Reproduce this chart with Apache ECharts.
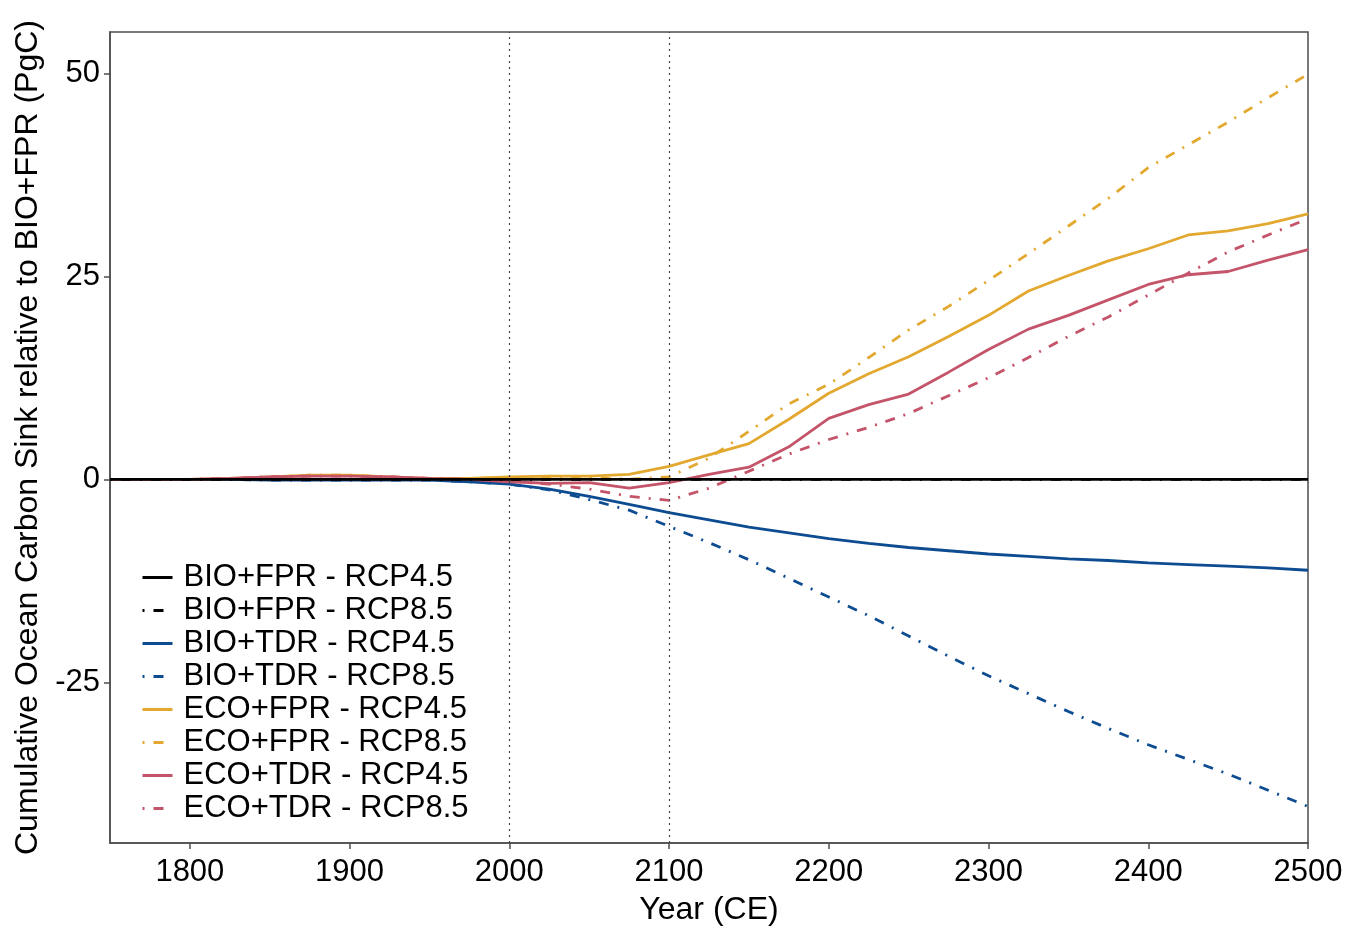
<!DOCTYPE html>
<html>
<head>
<meta charset="utf-8">
<script src="https://cdn.jsdelivr.net/npm/echarts@6/dist/echarts.min.js"></script>
<style>html,body{margin:0;padding:0;background:#fff;}#c{width:1351px;height:931px;}</style>
</head>
<body>
<div id="c"></div>
<script>
const years = [1750,1775,1800,1825,1850,1875,1900,1925,1950,1975,2000,2025,2050,2075,2100,2125,2150,2175,2200,2225,2250,2275,2300,2325,2350,2375,2400,2425,2450,2475,2500];

const bioFprRcp45 = [0,0,0,0,0,0,0,0,0,0,0,0,0,0,0,0,0,0,0,0,0,0,0,0,0,0,0,0,0,0,0];
const bioFprRcp85 = [0,0,0,0,0,0,0,0,0,0,0,0,0,0,0,0,0,0,0,0,0,0,0,0,0,0,0,0,0,0,0];
const bioTdrRcp45 = [0,0,0,0,-0.1,-0.1,-0.1,-0.1,-0.1,-0.3,-0.6,-1.2,-2.1,-3.1,-4.1,-5.0,-5.9,-6.6,-7.3,-7.9,-8.4,-8.8,-9.2,-9.5,-9.8,-10.0,-10.3,-10.5,-10.7,-10.9,-11.2];
const bioTdrRcp85 = [0,0,0,0,-0.1,-0.1,-0.1,-0.1,-0.1,-0.3,-0.6,-1.3,-2.5,-3.8,-5.8,-7.8,-9.9,-12.2,-14.5,-16.8,-19.3,-21.8,-24.2,-26.4,-28.6,-30.7,-32.7,-34.5,-36.3,-38.3,-40.3];
const ecoFprRcp45 = [0,0,0,0.1,0.3,0.5,0.5,0.3,0.1,0.1,0.3,0.4,0.4,0.6,1.6,3.0,4.4,7.4,10.6,13.0,15.1,17.6,20.2,23.2,25.1,26.9,28.4,30.1,30.6,31.5,32.7];
const ecoFprRcp85 = [0,0,0,0.1,0.3,0.5,0.5,0.3,0.1,0.1,0.2,0.3,0.2,0.0,0.3,2.6,5.9,9.3,11.7,15.0,18.4,21.3,24.5,27.8,31.2,34.6,38.4,41.2,44.0,47.0,49.9];
const ecoTdrRcp45 = [0,0,0,0.1,0.3,0.4,0.4,0.3,0.1,0,-0.3,-0.5,-0.4,-1.1,-0.4,0.6,1.5,4.0,7.5,9.2,10.5,13.2,16.0,18.5,20.2,22.1,24.0,25.2,25.6,27.0,28.3];
const ecoTdrRcp85 = [0,0,0,0.1,0.3,0.4,0.4,0.3,0.1,0,-0.2,-0.6,-1.2,-2.1,-2.6,-1.1,1.0,3.1,4.9,6.4,8.1,10.3,12.5,15.0,17.6,20.0,22.7,25.4,28.0,30.1,32.1];

const xTicks = [1800,1900,2000,2100,2200,2300,2400,2500];
const yTicks = [-25,0,25,50];
const refYears = [2000,2100];

const seriesNames = ['BIO+FPR - RCP4.5','BIO+FPR - RCP8.5','BIO+TDR - RCP4.5','BIO+TDR - RCP8.5','ECO+FPR - RCP4.5','ECO+FPR - RCP8.5','ECO+TDR - RCP4.5','ECO+TDR - RCP8.5'];
const seriesValues = [bioFprRcp45,bioFprRcp85,bioTdrRcp45,bioTdrRcp85,ecoFprRcp45,ecoFprRcp85,ecoTdrRcp45,ecoTdrRcp85];
const colors = ['#000000','#000000','#0e4c92','#0e4c92','#e3a82f','#e3a82f','#c4546a','#c4546a'];
const dotDash = [10,9,2,9];

const FONT = "'Liberation Sans', Arial, sans-serif";

const series = seriesNames.map((name, i) => {
  const dashed = i % 2 === 1;
  const s = {
    name: name,
    type: 'line',
    data: years.map((y, k) => [y, seriesValues[i][k]]),
    symbol: 'none',
    showSymbol: false,
    smooth: false,
    lineStyle: {
      color: colors[i],
      width: 2.8,
      type: dashed ? dotDash : 'solid',
      dashOffset: dashed ? 19 : 0,
      cap: 'butt'
    },
    itemStyle: { color: colors[i] },
    z: i === 0 ? 10 : (i === 1 ? 9 : 3),
    emphasis: { disabled: true }
  };
  if (i === 0) {
    s.markLine = {
      silent: true,
      symbol: 'none',
      label: { show: false },
      lineStyle: { type: [2, 4], color: '#444', width: 1.2 },
      data: refYears.map(y => ({ xAxis: y }))
    };
  }
  return s;
});

const chart = echarts.init(document.getElementById('c'), null, { renderer: 'canvas' });
chart.setOption({
  animation: false,
  backgroundColor: '#ffffff',
  textStyle: { fontFamily: FONT },
  grid: {
    left: 110, right: 43, top: 32, bottom: 86,
    show: true, borderColor: '#4d4d4d', borderWidth: 1.5, backgroundColor: 'transparent'
  },
  legend: {
    orient: 'vertical',
    left: 136,
    top: 557,
    itemWidth: 30,
    itemHeight: 14,
    itemGap: 2,
    itemStyle: { opacity: 0 },
    lineStyle: { width: 3 },
    textStyle: { fontSize: 31, lineHeight: 31, color: '#000', fontFamily: FONT, padding: [0,0,0,6] },
    data: seriesNames
  },
  xAxis: {
    type: 'value',
    min: 1750,
    max: 2500,
    name: 'Year (CE)',
    nameLocation: 'middle',
    nameGap: 51,
    nameTextStyle: { fontSize: 32, color: '#000', fontFamily: FONT },
    axisLine: { show: true, onZero: false, lineStyle: { color: '#4d4d4d', width: 1.5 } },
    axisTick: { show: true, length: 6, customValues: xTicks, lineStyle: { color: '#4d4d4d', width: 1.5 } },
    axisLabel: { customValues: xTicks, fontSize: 31, color: '#000', margin: 14, fontFamily: FONT, formatter: v => String(v) },
    splitLine: { show: false }
  },
  yAxis: {
    type: 'value',
    min: -44.8,
    max: 55.1,
    name: 'Cumulative Ocean Carbon Sink relative to BIO+FPR (PgC)',
    nameLocation: 'middle',
    nameGap: 65,
    nameTextStyle: { fontSize: 32, color: '#000', fontFamily: FONT },
    axisLine: { show: true, onZero: false, lineStyle: { color: '#4d4d4d', width: 1.5 } },
    axisTick: { show: true, length: 6, customValues: yTicks, lineStyle: { color: '#4d4d4d', width: 1.5 } },
    axisLabel: { customValues: yTicks, fontSize: 31, color: '#000', margin: 10, fontFamily: FONT, formatter: v => String(v) },
    splitLine: { show: false }
  },
  series: series
});
</script>
</body>
</html>
